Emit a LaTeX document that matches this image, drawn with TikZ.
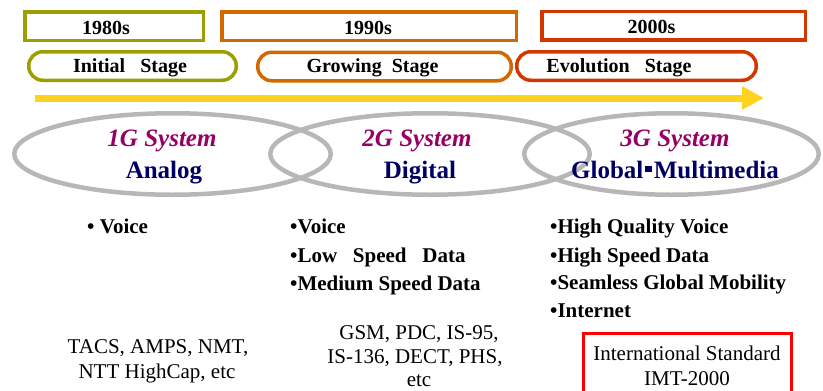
\documentclass[tikz,border=0pt]{standalone}
\usepackage{fontspec}
\setmainfont{Liberation Serif}
\usetikzlibrary{shapes.geometric,arrows.meta}
\definecolor{cOlive}{RGB}{155,160,0}
\definecolor{cOrange}{RGB}{210,105,0}
\definecolor{cRust}{RGB}{210,55,0}
\definecolor{cYellow}{RGB}{255,210,30}
\definecolor{cGray}{RGB}{183,183,183}
\definecolor{cMag}{RGB}{150,0,100}
\definecolor{cNavy}{RGB}{0,0,100}
\definecolor{cRed}{RGB}{250,0,0}
\begin{document}
\begin{tikzpicture}[x=1pt,y=-1pt,
  yearbox/.style={draw=#1, line width=3.5pt, minimum height=28.5pt, inner sep=0pt},
  stagebox/.style={draw=#1, line width=3.5pt, rounded corners=14pt, minimum height=28.5pt, inner sep=0pt},
  ell/.style={draw=cGray, line width=4.5pt, ellipse, minimum height=81.5pt, inner sep=0pt},
  lbl/.style={anchor=base, inner sep=0pt, font=\bfseries\fontsize{20}{24}\selectfont},
  sysname/.style={anchor=base, inner sep=0pt, text=cMag, font=\bfseries\itshape\fontsize{25}{30}\selectfont},
  systype/.style={anchor=base, inner sep=0pt, text=cNavy, font=\bfseries\fontsize{25}{30}\selectfont},
  item/.style={anchor=base west, inner sep=0pt, font=\bfseries\fontsize{21}{25}\selectfont},
  plain/.style={anchor=base, inner sep=0pt, font=\fontsize{21}{25}\selectfont}
]
\clip (0,0) rectangle (823,391);

% year boxes
\node[yearbox=cOlive, minimum width=178.5pt] (y1) at (114,26) {};
\node[yearbox=cOrange, minimum width=294.5pt] (y2) at (369,26) {};
\node[yearbox=cRust, minimum width=263.5pt] (y3) at (673.5,25.5) {};
\node[lbl] (t1) at (106,34) {1980s};
\node[lbl] (t2) at (368,34) {1990s};
\node[lbl] (t3) at (651.5,33) {2000s};

% stage boxes
\node[stagebox=cOlive, minimum width=207.5pt] (s1) at (132.5,66) {};
\node[stagebox=cOrange, minimum width=253.5pt] (s2) at (384.5,66.5) {};
\node[stagebox=cRust, minimum width=239.5pt] (s3) at (636.5,66) {};
\node[lbl] (st1) at (130,72) {Initial\ \ \ Stage};
\node[lbl] (st2) at (372.5,72) {Growing\ \ Stage};
\node[lbl] (st3) at (619,72) {Evolution\ \ \ Stage};

% timeline arrow
\coordinate (as) at (35,98);
\coordinate (ae) at (764,98);
\draw[cYellow, line width=7pt, -{Triangle[length=22pt,width=22pt]}] (as) -- (ae);

% ellipses
\node[ell, minimum width=316.5pt] (e1) at (172.5,154) {};
\node[ell, minimum width=319.5pt] (e2) at (430,154) {};
\node[ell, minimum width=294.5pt] (e3) at (671.5,154) {};
\node[sysname] (g1) at (162,146) {1G System};
\node[systype] (k1) at (164,178) {Analog};
\node[sysname] (g2) at (417,146) {2G System};
\node[systype] (k2) at (420,178) {Digital};
\node[sysname] (g3) at (675,146) {3G System};
\node[systype] (k3) at (675,178) {Global\hspace{0.08em}\raisebox{0.24em}{\rule{0.26em}{0.26em}}\hspace{0.08em}Multimedia};

% service lists
\node[item] (a1) at (87,233) {• Voice};
\node[item] (b1) at (290,233) {•Voice};
\node[item] (b2) at (290,262) {•Low\ \ \ Speed\ \ \ Data};
\node[item] (b3) at (290,290) {•Medium Speed Data};
\node[item] (c1) at (550,233) {•High Quality Voice};
\node[item] (c2) at (550,262) {•High Speed Data};
\node[item] (c3) at (550,289) {•Seamless Global Mobility};
\node[item] (c4) at (550,317) {•Internet};

% standards
\node[plain] (p1) at (158,353) {TACS, AMPS, NMT,};
\node[plain] (p2) at (157,378) {NTT HighCap, etc};
\node[plain] (q1) at (419,339) {GSM, PDC, IS-95,};
\node[plain] (q2) at (415,363) {IS-136, DECT, PHS,};
\node[plain] (q3) at (419,386.5) {etc};
\node[draw=cRed, line width=3pt, minimum width=208pt, minimum height=66.5pt, inner sep=0pt] (rb) at (687.5,366.75) {};
\node[plain] (r1) at (687,360) {International Standard};
\node[plain] (r2) at (687,385) {IMT-2000};
\end{tikzpicture}
\end{document}
